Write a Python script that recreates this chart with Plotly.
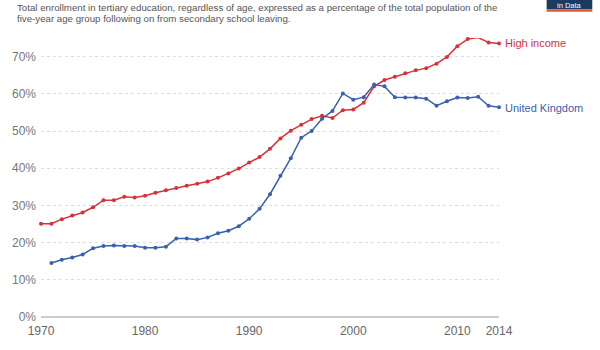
import plotly.graph_objects as go

years = list(range(1970, 2015))

high_income = [25.1, 25.1, 26.3, 27.3, 28.1, 29.5, 31.4, 31.4, 32.3, 32.1,
               32.6, 33.4, 34.1, 34.7, 35.3, 35.8, 36.4, 37.4, 38.6, 39.9,
               41.5, 43.0, 45.2, 48.0, 50.1, 51.7, 53.2, 54.1, 53.5, 55.6,
               55.8, 57.6, 62.0, 63.7, 64.6, 65.5, 66.3, 66.9, 68.1, 69.9,
               72.8, 74.7, 75.1, 73.8, 73.5]

uk_years = list(range(1971, 2015))
uk = [14.5, 15.4, 16.0, 16.8, 18.5, 19.1, 19.2, 19.1, 19.1,
      18.6, 18.6, 18.9, 21.1, 21.1, 20.8, 21.4, 22.5, 23.2, 24.4,
      26.4, 29.1, 33.0, 38.0, 42.7, 48.2, 50.0, 53.3, 55.4, 60.1,
      58.4, 59.1, 62.5, 62.0, 59.1, 59.0, 59.0, 58.7, 56.8, 58.0,
      59.0, 58.9, 59.2, 56.8, 56.4]

y_ticks = [0, 10, 20, 30, 40, 50, 60, 70]
y_tick_labels = ["0%", "10%", "20%", "30%", "40%", "50%", "60%", "70%"]
x_ticks = [1970, 1980, 1990, 2000, 2010, 2014]

RED = "#d4333a"
BLUE = "#3a61ae"
FONT = "Liberation Sans, Arial"

W, H = 600, 350
L, R, T, B = 37.5, 499, 38.2, 331.5


def px(xp):
    return (xp - L) / (R - L)


def py(yp):
    return (B - yp) / (B - T)


fig = go.Figure()
fig.add_trace(go.Scatter(x=years, y=high_income, mode="lines+markers",
                         line=dict(color=RED, width=1.5),
                         marker=dict(color=RED, size=4), cliponaxis=False,
                         name="High income", showlegend=False))
fig.add_trace(go.Scatter(x=uk_years, y=uk, mode="lines+markers",
                         line=dict(color=BLUE, width=1.5),
                         marker=dict(color=BLUE, size=4), cliponaxis=False,
                         name="United Kingdom", showlegend=False))

annotations = [
    dict(x=2014, y=high_income[-1], xref="x", yref="y", text="High income",
         showarrow=False, xanchor="left", yanchor="middle", xshift=4, yshift=1,
         font=dict(color=RED, size=11, family=FONT)),
    dict(x=2014, y=uk[-1], xref="x", yref="y", text="United Kingdom",
         showarrow=False, xanchor="left", yanchor="middle", xshift=4, yshift=-1,
         font=dict(color=BLUE, size=11, family=FONT)),
    dict(x=px(11), y=py(6.5), xref="paper", yref="paper",
         text="Total enrollment in tertiary education, regardless of age, expressed as a percentage of the total population of the",
         showarrow=False, xanchor="left", yanchor="middle",
         font=dict(color="#555555", size=9.7, family=FONT)),
    dict(x=px(11), y=py(18), xref="paper", yref="paper",
         text="five-year age group following on from secondary school leaving.",
         showarrow=False, xanchor="left", yanchor="middle",
         font=dict(color="#555555", size=9.7, family=FONT)),
    dict(x=px(570), y=py(4.2), xref="paper", yref="paper", text="in Data",
         showarrow=False, xanchor="center", yanchor="middle",
         font=dict(color="#ffffff", size=7.5, family=FONT)),
]

shapes = [
    dict(type="rect", xref="paper", yref="paper", x0=px(547), x1=px(593),
         y0=py(8), y1=py(-2), fillcolor="#1b3b63", line=dict(width=0), layer="below"),
    dict(type="rect", xref="paper", yref="paper", x0=px(547), x1=px(593),
         y0=py(10.5), y1=py(8), fillcolor="#e4572e", line=dict(width=0)),
]

fig.update_layout(
    width=W, height=H,
    margin=dict(l=L, r=W - R, t=T, b=H - B, pad=0),
    paper_bgcolor="white", plot_bgcolor="white",
    annotations=annotations, shapes=shapes,
    xaxis=dict(range=[1970, 2014], tickvals=x_ticks, showgrid=False,
               zeroline=False, showline=False, ticks="", ticklabelstandoff=5,
               tickfont=dict(color="#666666", size=12, family=FONT)),
    yaxis=dict(range=[0, 75], tickvals=y_ticks, ticktext=y_tick_labels,
               showgrid=True, gridcolor="#dddddd", griddash="dot", gridwidth=1,
               zeroline=True, zerolinecolor="#cccccc", zerolinewidth=1.5,
               showline=False, ticks="", ticklabelstandoff=4,
               tickfont=dict(color="#777777", size=12, family=FONT)),
    hovermode=False,
)

fig.write_html("out.html")
